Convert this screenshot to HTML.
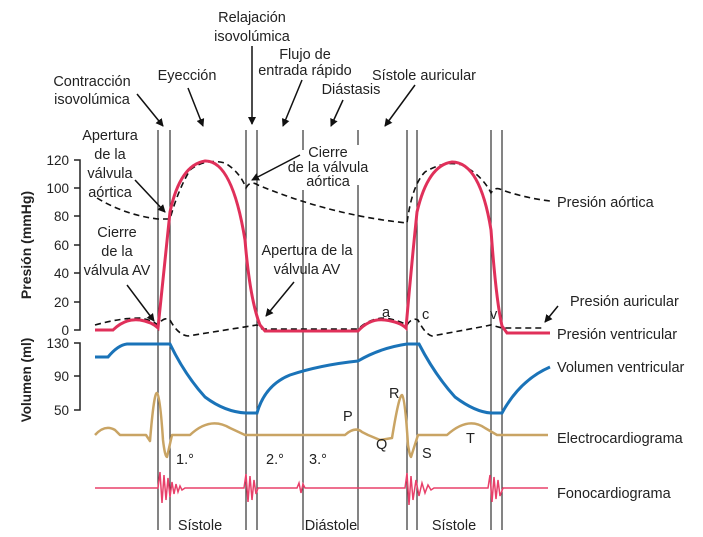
<!DOCTYPE html>
<html><head><meta charset="utf-8"><style>
html,body{margin:0;padding:0;background:#fff;}
svg{display:block;font-family:"Liberation Sans",sans-serif;font-size:14.5px;fill:#222;}
</style></head><body>
<svg width="703" height="537" viewBox="0 0 703 537">
<defs><marker id="ar" markerWidth="8" markerHeight="8" refX="7" refY="4" orient="auto" markerUnits="userSpaceOnUse"><path d="M0,0 L8,4 L0,8 Z" fill="#111"/></marker></defs>
<g stroke="#333" stroke-width="1.2">
<line x1="158" y1="130" x2="158" y2="530"/><line x1="170" y1="130" x2="170" y2="530"/>
<line x1="246" y1="130" x2="246" y2="530"/><line x1="257" y1="130" x2="257" y2="530"/>
<line x1="303" y1="130" x2="303" y2="150"/><line x1="303" y1="190" x2="303" y2="530"/>
<line x1="358" y1="130" x2="358" y2="145"/><line x1="358" y1="185" x2="358" y2="530"/>
<line x1="407" y1="130" x2="407" y2="530"/><line x1="417" y1="130" x2="417" y2="530"/>
<line x1="491" y1="130" x2="491" y2="530"/><line x1="502" y1="130" x2="502" y2="530"/>
</g>
<g stroke="#222" stroke-width="1.5" fill="none">
<path d="M74,160 H80 V330 H74 M74,188 H80 M74,216 H80 M74,245 H80 M74,273 H80 M74,302 H80"/>
<path d="M74,343 H80 V410 H74 M74,376 H80"/>
</g>
<g text-anchor="end" font-size="13.5">
<text x="69" y="165">120</text><text x="69" y="193">100</text><text x="69" y="221">80</text><text x="69" y="250">60</text><text x="69" y="278">40</text><text x="69" y="307">20</text><text x="69" y="335">0</text>
<text x="69" y="348">130</text><text x="69" y="381">90</text><text x="69" y="415">50</text>
</g>
<text transform="translate(31,245) rotate(-90)" text-anchor="middle" font-weight="bold" font-size="14">Presión (mmHg)</text>
<text transform="translate(31,380) rotate(-90)" text-anchor="middle" font-weight="bold" font-size="13.5">Volumen (ml)</text>
<path d="M97,198 Q125,215 158,219 L170,219 Q178,190 190,170 Q205,158 225,163 Q240,172 246,188 Q250,180 258,185 Q330,215 407,223 Q412,185 425,172 Q445,160 462,165 Q482,175 491,193 Q495,186 502,190 Q525,198 550,201" fill="none" stroke="#111" stroke-width="1.6" stroke-dasharray="6,4"/>
<path d="M95,325 Q120,318 140,318 Q152,320 158,325 Q164,316 170,320 Q178,335 188,336 Q225,330 257,325 L262,329 L358,329 Q370,318 385,318 Q398,320 407,325 Q412,317 418,320 Q425,334 432,336 Q465,330 491,325 L502,328 L545,328" fill="none" stroke="#111" stroke-width="1.6" stroke-dasharray="6,4"/>
<line x1="558" y1="306" x2="545" y2="322" stroke="#111" stroke-width="1.5" marker-end="url(#ar)"/>
<path d="M95,330 L113,330 Q125,318 140,320 Q152,322 158,328 Q164,270 170,212 Q180,165 205,161 Q232,160 245,240 Q250,300 260,325 L265,331 L358,331 Q370,318 385,320 Q400,322 406,328 Q411,270 417,212 Q428,165 452,162 Q480,162 491,230 Q496,300 502,326 L507,333 L550,333" fill="none" stroke="#e0305a" stroke-width="3"/>
<path d="M95,357 L108,357 Q118,345 127,344 L170,344 Q185,375 205,397 Q225,412 246,413 L257,413 Q265,385 290,375 Q320,365 358,361 Q380,348 407,344 L419,344 Q435,375 455,397 Q475,412 491,413 L502,413 Q520,380 550,367" fill="none" stroke="#1a73b8" stroke-width="3"/>
<path d="M95,435 Q105,424 115,430 L120,435 L146,435 L150,441 Q154,392 157,393 Q160,395 163,440 Q165,457 167,457 L172,435 L190,435 Q210,416 230,428 L245,435 L345,435 Q355,426 362,432 L368,435 L380,440 L392,438 Q399,395 402,395 Q405,398 408,445 Q410,457 411,457 L418,435 L447,435 Q468,416 485,428 L497,435 L548,435" fill="none" stroke="#c9a464" stroke-width="2.5" stroke-linejoin="round"/>
<path d="M95,488 L158,488 L160,472 L162,503 L164,475 L166,500 L168,478 L170,497 L172,482 L174,494 L176,484 L178,492 L180,486 L182,490 L185,488 L244,488 L246,474 L248,502 L250,476 L252,500 L254,480 L256,494 L258,488 L297,488 L299,483 L301,493 L303,484 L305,488 L405,488 L407,473 L409,505 L411,476 L413,500 L416,480 L419,496 L422,483 L425,493 L428,485 L431,490 L434,488 L488,488 L490,475 L492,502 L494,477 L496,499 L498,480 L500,496 L503,488 L548,488" fill="none" stroke="#e8406a" stroke-width="1.5"/>
<g>
<text x="557" y="207">Presión aórtica</text>
<text x="570" y="306">Presión auricular</text>
<text x="557" y="339">Presión ventricular</text>
<text x="557" y="372">Volumen ventricular</text>
<text x="557" y="443">Electrocardiograma</text>
<text x="557" y="498">Fonocardiograma</text>
</g>
<g>
<text x="343" y="421">P</text><text x="376" y="449">Q</text><text x="389" y="398">R</text><text x="422" y="458">S</text><text x="466" y="443">T</text>
<text x="176" y="464">1.°</text><text x="266" y="464">2.°</text><text x="309" y="464">3.°</text>
<text x="382" y="317">a</text><text x="422" y="319">c</text><text x="490" y="319">v</text>
<text x="200" y="530" text-anchor="middle">Sístole</text>
<text x="331" y="530" text-anchor="middle">Diástole</text>
<text x="454" y="530" text-anchor="middle">Sístole</text>
</g>
<g text-anchor="middle">
<text x="252" y="22">Relajación</text><text x="252" y="41">isovolúmica</text>
<text x="92" y="86">Contracción</text><text x="92" y="104">isovolúmica</text>
<text x="187" y="80">Eyección</text>
<text x="305" y="59">Flujo de</text><text x="305" y="75">entrada rápido</text>
<text x="351" y="94">Diástasis</text>
<text x="424" y="80">Sístole auricular</text>
<text x="110" y="140">Apertura</text><text x="110" y="159">de la</text><text x="110" y="178">válvula</text><text x="110" y="197">aórtica</text>
<text x="117" y="237">Cierre</text><text x="117" y="256">de la</text><text x="117" y="275">válvula AV</text>
<text x="328" y="157">Cierre</text><text x="328" y="172">de la válvula</text><text x="328" y="186">aórtica</text>
<text x="307" y="255">Apertura de la</text><text x="307" y="274">válvula AV</text>
</g>
<g stroke="#111" stroke-width="1.5" marker-end="url(#ar)">
<line x1="252" y1="46" x2="252" y2="124"/>
<line x1="137" y1="94" x2="163" y2="126"/>
<line x1="188" y1="88" x2="203" y2="126"/>
<line x1="302" y1="80" x2="283" y2="126"/>
<line x1="343" y1="100" x2="331" y2="126"/>
<line x1="415" y1="85" x2="385" y2="126"/>
<line x1="135" y1="180" x2="165" y2="212"/>
<line x1="127" y1="285" x2="154" y2="321"/>
<line x1="300" y1="155" x2="252" y2="180"/>
<line x1="294" y1="282" x2="266" y2="316"/>
</g>
</svg>
</body></html>
